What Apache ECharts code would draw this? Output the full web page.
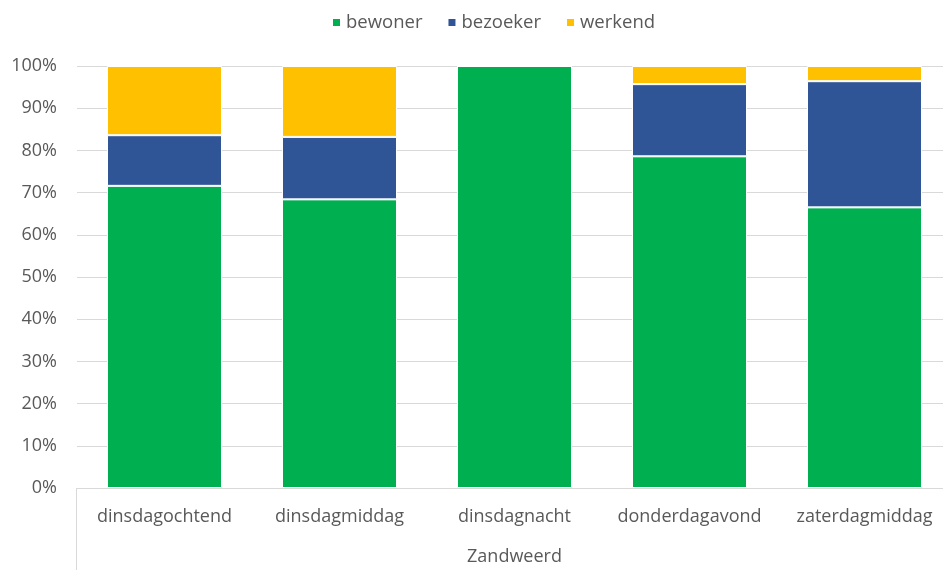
<!DOCTYPE html>
<html>
<head>
<meta charset="utf-8">
<script src="https://cdn.jsdelivr.net/npm/echarts@6/dist/echarts.min.js"></script>
<style>html,body{margin:0;padding:0;background:#fff}#c{width:943px;height:570px}</style>
</head>
<body>
<div id="c"></div>
<script>
var categories = ['dinsdagochtend', 'dinsdagmiddag', 'dinsdagnacht', 'donderdagavond', 'zaterdagmiddag'];
var bewoner = [71.6, 68.4, 100, 78.6, 66.5];
var bezoeker = [12.0, 14.8, 0, 17.1, 29.9];
var werkend = [16.4, 16.8, 0, 4.3, 3.6];
var yTicks = [0, 10, 20, 30, 40, 50, 60, 70, 80, 90, 100];
var groupName = 'Zandweerd';

var font = 'Open Sans, Liberation Sans, sans-serif';
var chart = echarts.init(document.getElementById('c'), null, {renderer: 'canvas'});
function mk(name, data, color) {
  return {
    name: name, type: 'bar', stack: 'total', data: data, barWidth: 115,
    itemStyle: {color: color, borderColor: '#ffffff', borderWidth: 1},
    emphasis: {disabled: true}
  };
}
chart.setOption({
  animation: false,
  textStyle: {fontFamily: font},
  legend: {
    top: 13, left: 331, padding: 0, itemWidth: 9, itemHeight: 9, itemGap: 24,
    icon: 'rect',
    textStyle: {color: '#595959', fontSize: 18.5, fontFamily: font}
  },
  grid: {left: 77, top: 66, width: 875, height: 422, containLabel: false, outerBoundsMode: 'none'},
  xAxis: {
    type: 'category', data: categories,
    axisLine: {lineStyle: {color: '#d9d9d9', width: 1}},
    axisTick: {show: false},
    axisLabel: {color: '#595959', fontSize: 18, margin: 20, fontFamily: font, interval: 0, hideOverlap: false},
    name: groupName, nameLocation: 'middle', nameGap: 60,
    nameTextStyle: {color: '#595959', fontSize: 18, fontFamily: font}
  },
  yAxis: {
    type: 'value', min: yTicks[0], max: yTicks[yTicks.length - 1], interval: 10,
    axisLine: {show: false}, axisTick: {show: false},
    axisLabel: {color: '#595959', fontSize: 18, margin: 20, formatter: '{value}%', fontFamily: font},
    splitLine: {lineStyle: {color: '#d9d9d9', width: 1}}
  },
  graphic: [{
    type: 'line', shape: {x1: 76.5, y1: 488, x2: 76.5, y2: 570},
    style: {stroke: '#d9d9d9', lineWidth: 1}
  }],
  series: [
    mk('bewoner', bewoner, '#00b050'),
    mk('bezoeker', bezoeker, '#2f5597'),
    mk('werkend', werkend, '#ffc000')
  ]
});
</script>
</body>
</html>
